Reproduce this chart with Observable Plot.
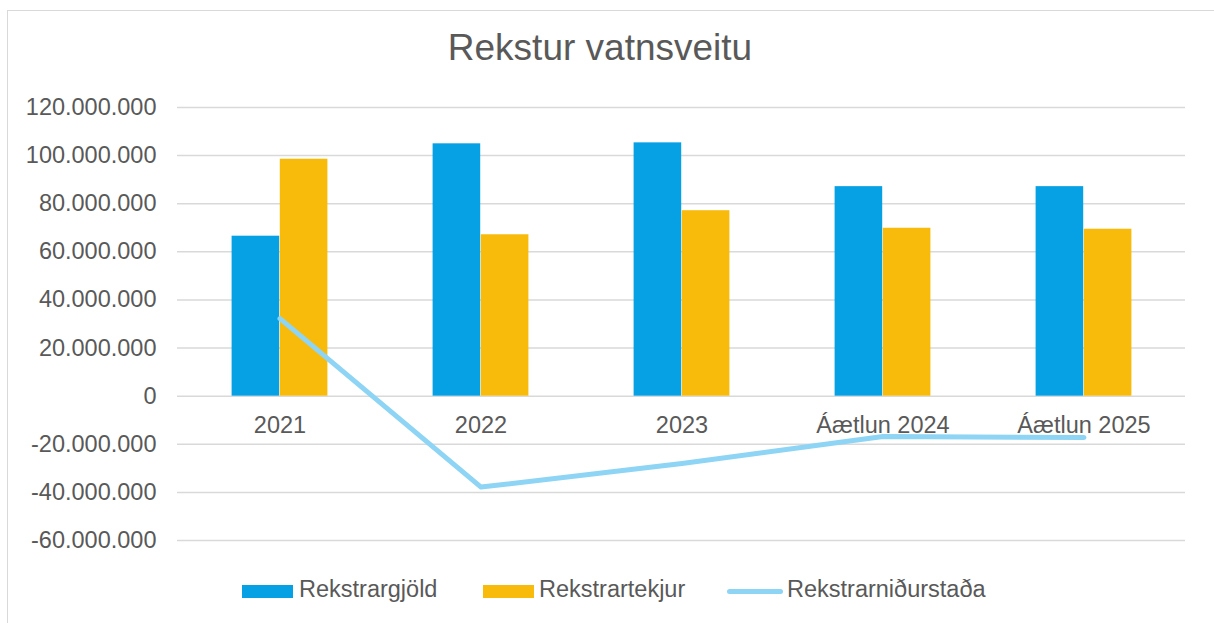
<!DOCTYPE html>
<html>
<head>
<meta charset="utf-8">
<script src="https://cdn.jsdelivr.net/npm/d3@7"></script>
<script src="https://cdn.jsdelivr.net/npm/@observablehq/plot@0.6"></script>
<style>
  html, body { margin: 0; padding: 0; background: #fff; }
  body { font-family: "Liberation Sans", Arial, sans-serif; }
  #wrap { position: relative; width: 1214px; height: 623px; overflow: hidden; background: #fff; }
  #frame { position: absolute; left: 7px; top: 10px; width: 1400px; height: 800px; border: 1.5px solid #D9D9D9; box-sizing: border-box; }
  #title { position: absolute; left: 0; top: 29px; width: 1200px; text-align: center; font-size: 37px; line-height: 37px; color: #595959; white-space: nowrap; }
  #chart { position: absolute; left: 0; top: 80px; }
  .lg { position: absolute; font-size: 23.5px; line-height: 23px; color: #595959; white-space: nowrap; }
  .sw { position: absolute; }
</style>
</head>
<body>
<div id="wrap">
  <div id="frame"></div>
  <div id="title"></div>
  <div id="chart"></div>
  <div id="legend"></div>
</div>
<script>
const title = "Rekstur vatnsveitu";
const categories = ["2021", "2022", "2023", "Áætlun 2024", "Áætlun 2025"];
const seriesNames = ["Rekstrargjöld", "Rekstrartekjur", "Rekstrarniðurstaða"];
const rekstrargjold = [66.5e6, 104.9e6, 105.3e6, 87.1e6, 87.1e6];
const rekstrartekjur = [98.5e6, 67.1e6, 77.1e6, 69.8e6, 69.4e6];
const rekstrarnidurstada = [32.2e6, -37.8e6, -28.0e6, -16.8e6, -17.2e6];
const yTicks = [-60e6, -40e6, -20e6, 0, 20e6, 40e6, 60e6, 80e6, 100e6, 120e6];

const colors = ["#06A0E4", "#F9BB0B", "#8ED4F4"];
const textColor = "#595959";
const gridColor = "#D9D9D9";

const data = categories.map((c, i) => ({
  cat: c,
  gjold: rekstrargjold[i],
  tekjur: rekstrartekjur[i],
  nid: rekstrarnidurstada[i]
}));

const locale = d3.formatLocale({decimal: ",", thousands: ".", grouping: [3], currency: ["", ""], minus: "-"});
const fmt = locale.format(",");

document.getElementById("title").textContent = title;

const width = 1214, marginLeft = 177, marginRight = 29;
const band = (width - marginLeft - marginRight) / categories.length;
const barW = 48.2;

const plot = Plot.plot({
  width: width,
  height: 480,
  marginTop: 27,
  marginBottom: 20,
  marginLeft: marginLeft,
  marginRight: marginRight,
  style: { fontFamily: "'Liberation Sans', Arial, sans-serif", fontSize: "23.5px", color: textColor, background: "transparent", overflow: "visible" },
  x: { type: "band", domain: categories, padding: 0, axis: null },
  y: { domain: [-60e6, 120e6], axis: null },
  marks: [
    Plot.ruleY(yTicks, { stroke: gridColor, strokeWidth: 1.5 }),
    Plot.axisY({ ticks: yTicks, tickFormat: fmt, tickSize: 0, tickPadding: 21, fontSize: 23.5, fill: textColor, anchor: "left" }),
    Plot.barY(data, { x: "cat", y: "gjold", fill: colors[0], insetLeft: band / 2 - barW, insetRight: band / 2 }),
    Plot.barY(data, { x: "cat", y: "tekjur", fill: colors[1], insetLeft: band / 2, insetRight: band / 2 - barW }),
    Plot.text(data, { x: "cat", y: () => 0, text: "cat", dy: 29, fontSize: 23.5, fill: textColor, textAnchor: "middle" }),
    Plot.line(data, { x: "cat", y: "nid", stroke: colors[2], strokeWidth: 5, strokeLinecap: "round", strokeLinejoin: "round" })
  ]
});
document.getElementById("chart").appendChild(plot);

// Legend
const legend = document.getElementById("legend");
const items = [
  { name: seriesNames[0], color: colors[0], type: "rect", sx: 242, tx: 299 },
  { name: seriesNames[1], color: colors[1], type: "rect", sx: 483, tx: 539 },
  { name: seriesNames[2], color: colors[2], type: "line", sx: 727, tx: 787 }
];
items.forEach(it => {
  const sw = document.createElement("div");
  sw.className = "sw";
  if (it.type === "rect") {
    Object.assign(sw.style, { left: it.sx + "px", top: "585px", width: "51px", height: "13px", background: it.color });
  } else {
    Object.assign(sw.style, { left: it.sx + "px", top: "588.5px", width: "56px", height: "5px", background: it.color, borderRadius: "3px" });
  }
  legend.appendChild(sw);
  const t = document.createElement("div");
  t.className = "lg";
  t.textContent = it.name;
  Object.assign(t.style, { left: it.tx + "px", top: "578px" });
  legend.appendChild(t);
});
</script>
</body>
</html>
